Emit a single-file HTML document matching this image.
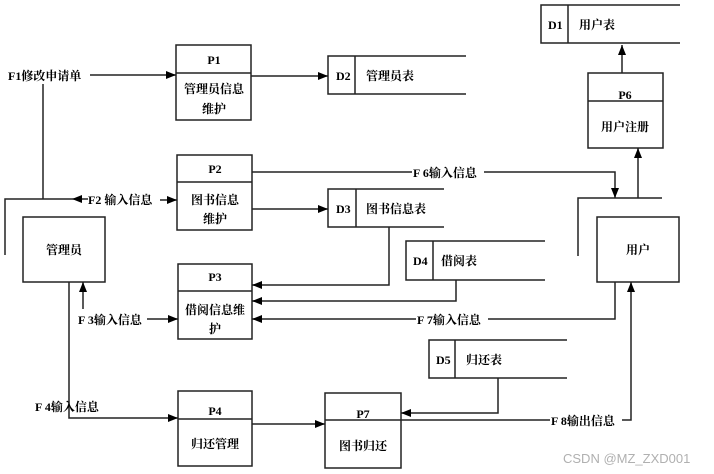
<!DOCTYPE html>
<html><head><meta charset="utf-8"><style>
html,body{margin:0;padding:0;background:#fff;}
svg{display:block;}
text{font-family:"Liberation Serif","Noto Serif CJK SC","Noto Sans CJK SC",serif;font-size:12px;font-weight:bold;fill:#000;}
</style></head><body>
<svg width="714" height="474" viewBox="0 0 714 474" xmlns="http://www.w3.org/2000/svg">
<defs>
<marker id="a" markerWidth="10" markerHeight="8" refX="10" refY="4" orient="auto" markerUnits="userSpaceOnUse">
<path d="M0,0 L10,4 L0,8 z" fill="#000"/></marker>
</defs>
<g fill="none" stroke="#222" stroke-width="1.5">
<!-- processes -->
<rect x="176" y="45" width="75" height="75"/><line x1="176" y1="73" x2="251" y2="73"/>
<rect x="177" y="155" width="75" height="75"/><line x1="177" y1="182" x2="252" y2="182"/>
<rect x="178" y="264" width="74" height="75"/><line x1="178" y1="291" x2="252" y2="291"/>
<rect x="178" y="391" width="74" height="75"/><line x1="178" y1="419" x2="252" y2="419"/>
<rect x="325" y="393" width="76" height="75"/><line x1="325" y1="420" x2="401" y2="420"/>
<rect x="588" y="73" width="75" height="75"/><line x1="588" y1="101" x2="663" y2="101"/>
<!-- entities -->
<rect x="23" y="217" width="82" height="65"/>
<polyline points="5,255 5,199 72,199"/>
<rect x="597" y="217" width="82" height="65"/>
<polyline points="578,256 578,198 662,198"/>
<!-- stores -->
<path d="M466,56 H328 V94 H466 M355,56 V94"/>
<path d="M444,189 H328 V227 H444 M356,189 V227"/>
<path d="M545,241 H406 V280 H545 M433,241 V280"/>
<path d="M567,340 H429 V378 H567 M455,340 V378"/>
<path d="M680,5 H541 V43 H680 M568,5 V43"/>
<!-- connectors -->
<line x1="90" y1="75" x2="176" y2="75" marker-end="url(#a)"/>
<line x1="251" y1="76" x2="328" y2="76" marker-end="url(#a)"/>
<line x1="43" y1="84" x2="43" y2="199"/>
<line x1="88" y1="199" x2="72" y2="199" marker-end="url(#a)"/>
<line x1="160" y1="200" x2="177" y2="200" marker-end="url(#a)"/>
<line x1="252" y1="209" x2="328" y2="209" marker-end="url(#a)"/>
<polyline points="252,172 615,172 615,198" marker-end="url(#a)"/>
<line x1="638" y1="198" x2="638" y2="148" marker-end="url(#a)"/>
<line x1="622" y1="73" x2="622" y2="45" marker-end="url(#a)"/>
<polyline points="389,227 389,285 252,285" marker-end="url(#a)"/>
<polyline points="456,280 456,301 252,301" marker-end="url(#a)"/>
<polyline points="615,282 615,319 252,319" marker-end="url(#a)"/>
<line x1="83" y1="309" x2="83" y2="282" marker-end="url(#a)"/>
<line x1="147" y1="319" x2="178" y2="319" marker-end="url(#a)"/>
<polyline points="69,282 69,418 178,418" marker-end="url(#a)"/>
<line x1="252" y1="424" x2="325" y2="424" marker-end="url(#a)"/>
<polyline points="498,378 498,413 401,413" marker-end="url(#a)"/>
<polyline points="401,420 631,420 631,282" marker-end="url(#a)"/>
</g>
<g fill="#fff" stroke="none">
<rect x="412" y="165" width="72" height="14"/>
<rect x="416" y="312" width="72" height="14"/>
<rect x="550" y="413" width="72" height="14"/>
</g>
<g text-anchor="middle">
<text x="214" y="64">P1</text>
<text x="214" y="93">管理员信息</text><text x="214" y="113">维护</text>
<text x="215" y="173">P2</text>
<text x="215" y="204">图书信息</text><text x="215" y="223">维护</text>
<text x="215" y="281">P3</text>
<text x="215" y="314">借阅信息维</text><text x="215" y="333">护</text>
<text x="215" y="415">P4</text>
<text x="215" y="448">归还管理</text>
<text x="363" y="418">P7</text>
<text x="363" y="450">图书归还</text>
<text x="625" y="99">P6</text>
<text x="625" y="131">用户注册</text>
<text x="64" y="254">管理员</text>
<text x="638" y="254">用户</text>
</g>
<text x="336" y="80">D2</text><text x="366" y="80">管理员表</text>
<text x="336" y="213">D3</text><text x="366" y="213">图书信息表</text>
<text x="413" y="265">D4</text><text x="441" y="265">借阅表</text>
<text x="436" y="364">D5</text><text x="466" y="364">归还表</text>
<text x="548" y="29">D1</text><text x="579" y="29">用户表</text>
<text x="8" y="80">F1修改申请单</text>
<text x="88" y="204">F2 输入信息</text>
<text x="413" y="177">F 6输入信息</text>
<text x="78" y="324">F 3输入信息</text>
<text x="417" y="324">F 7输入信息</text>
<text x="35" y="411">F 4输入信息</text>
<text x="551" y="425">F 8输出信息</text>
<text x="563" y="463" style="font-family:'Liberation Sans',sans-serif;font-weight:normal;font-size:13px;fill:#b0b0b0">CSDN @MZ_ZXD001</text>
</svg>
</body></html>
